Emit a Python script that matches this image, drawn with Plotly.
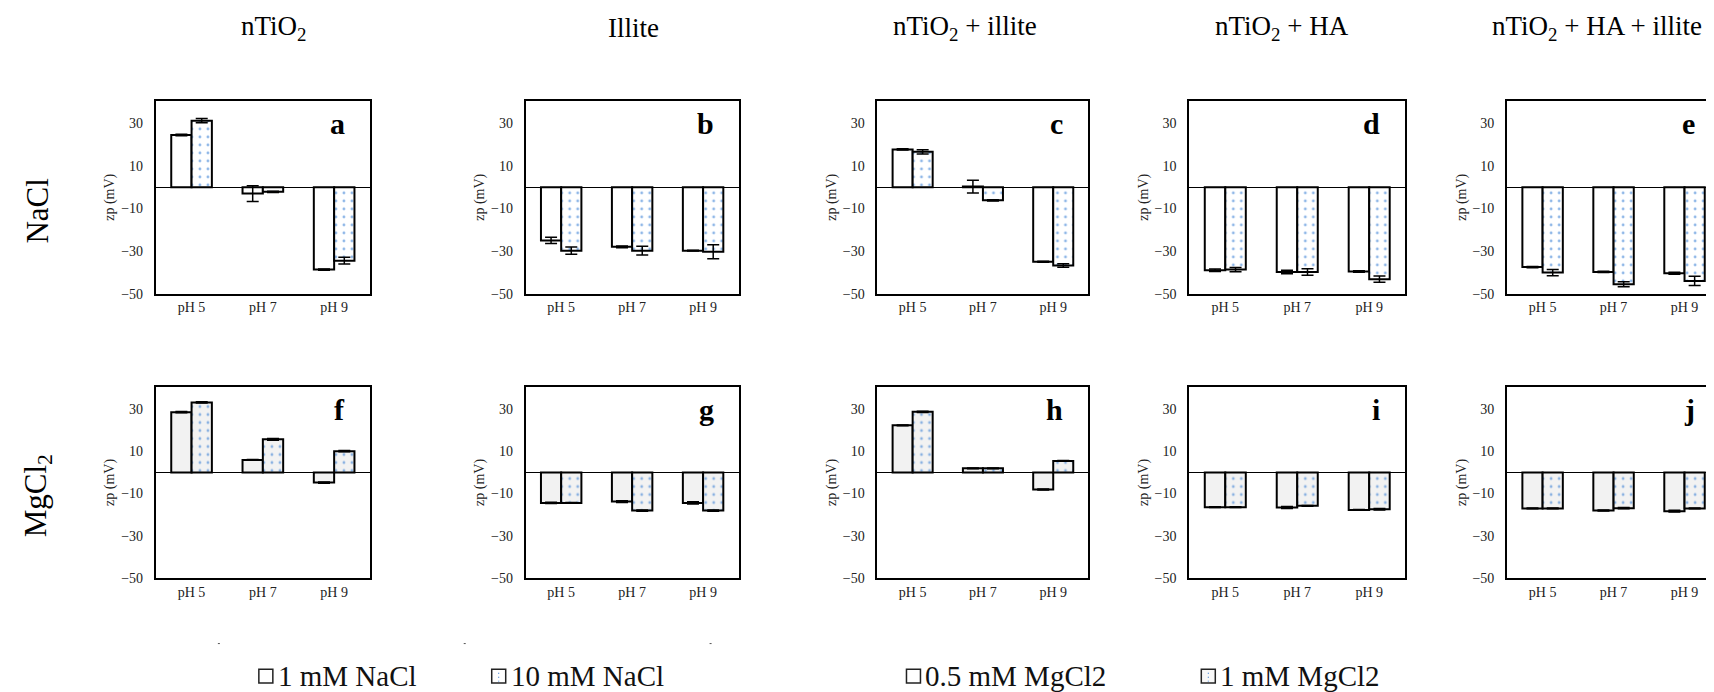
import plotly.graph_objects as go

W, H = 1714, 692

categories = ["pH 5", "pH 7", "pH 9"]
column_titles = ["nTiO<sub>2</sub>", "Illite", "nTiO<sub>2</sub> + illite",
                 "nTiO<sub>2</sub> + HA", "nTiO<sub>2</sub> + HA + illite"]
row_titles = ["NaCl", "MgCl<sub>2</sub>"]
panel_letters_top = ["a", "b", "c", "d", "e"]
panel_letters_bottom = ["f", "g", "h", "i", "j"]
y_ticks = [-50, -30, -10, 10, 30]
y_title = "zp (mV)"
legend_labels = ["1 mM NaCl", "10 mM NaCl", "0.5 mM MgCl2", "1 mM MgCl2"]

# ---- NaCl row (a-e) ----
nTiO2_1mM_NaCl = [24.5, -3.0, -38.7]
nTiO2_1mM_NaCl_err = [0.4, 3.7, 0.3]
nTiO2_10mM_NaCl = [31.2, -2.2, -34.5]
nTiO2_10mM_NaCl_err = [1.0, 0.3, 1.6]

illite_1mM_NaCl = [-25.0, -28.0, -29.8]
illite_1mM_NaCl_err = [1.5, 0.4, 0.2]
illite_10mM_NaCl = [-29.8, -29.8, -30.3]
illite_10mM_NaCl_err = [1.7, 2.0, 3.3]

mix_1mM_NaCl = [17.7, 0.3, -35.0]
mix_1mM_NaCl_err = [0.3, 3.0, 0.2]
mix_10mM_NaCl = [16.6, -6.2, -36.8]
mix_10mM_NaCl_err = [1.0, 0.3, 0.8]

ha_1mM_NaCl = [-39.0, -39.8, -39.6]
ha_1mM_NaCl_err = [0.6, 0.8, 0.3]
ha_10mM_NaCl = [-38.7, -39.8, -43.2]
ha_10mM_NaCl_err = [1.0, 1.5, 1.5]

haill_1mM_NaCl = [-37.5, -39.8, -40.4]
haill_1mM_NaCl_err = [0.3, 0.3, 0.5]
haill_10mM_NaCl = [-40.1, -45.6, -44.0]
haill_10mM_NaCl_err = [1.5, 1.2, 2.2]

# ---- MgCl2 row (f-j) ----
nTiO2_05mM_MgCl2 = [28.4, 5.9, -4.8]
nTiO2_05mM_MgCl2_err = [0.3, 0.2, 0.3]
nTiO2_1mM_MgCl2 = [33.0, 15.6, 10.0]
nTiO2_1mM_MgCl2_err = [0.3, 0.4, 0.3]

illite_05mM_MgCl2 = [-14.4, -13.8, -14.4]
illite_05mM_MgCl2_err = [0.3, 0.4, 0.5]
illite_1mM_MgCl2 = [-14.4, -18.0, -18.0]
illite_1mM_MgCl2_err = [0.2, 0.3, 0.3]

mix_05mM_MgCl2 = [22.2, 1.9, -8.1]
mix_05mM_MgCl2_err = [0.2, 0.2, 0.2]
mix_1mM_MgCl2 = [28.6, 1.9, 5.4]
mix_1mM_MgCl2_err = [0.3, 0.2, 0.2]

ha_05mM_MgCl2 = [-16.4, -16.6, -17.7]
ha_05mM_MgCl2_err = [0.2, 0.5, 0.2]
ha_1mM_MgCl2 = [-16.4, -15.8, -17.4]
ha_1mM_MgCl2_err = [0.2, 0.2, 0.3]

haill_05mM_MgCl2 = [-17.0, -18.0, -18.3]
haill_05mM_MgCl2_err = [0.2, 0.2, 0.4]
haill_1mM_MgCl2 = [-17.0, -16.9, -17.0]
haill_1mM_MgCl2_err = [0.2, 0.3, 0.2]

top_row = [
    (nTiO2_1mM_NaCl, nTiO2_1mM_NaCl_err, nTiO2_10mM_NaCl, nTiO2_10mM_NaCl_err),
    (illite_1mM_NaCl, illite_1mM_NaCl_err, illite_10mM_NaCl, illite_10mM_NaCl_err),
    (mix_1mM_NaCl, mix_1mM_NaCl_err, mix_10mM_NaCl, mix_10mM_NaCl_err),
    (ha_1mM_NaCl, ha_1mM_NaCl_err, ha_10mM_NaCl, ha_10mM_NaCl_err),
    (haill_1mM_NaCl, haill_1mM_NaCl_err, haill_10mM_NaCl, haill_10mM_NaCl_err),
]
bottom_row = [
    (nTiO2_05mM_MgCl2, nTiO2_05mM_MgCl2_err, nTiO2_1mM_MgCl2, nTiO2_1mM_MgCl2_err),
    (illite_05mM_MgCl2, illite_05mM_MgCl2_err, illite_1mM_MgCl2, illite_1mM_MgCl2_err),
    (mix_05mM_MgCl2, mix_05mM_MgCl2_err, mix_1mM_MgCl2, mix_1mM_MgCl2_err),
    (ha_05mM_MgCl2, ha_05mM_MgCl2_err, ha_1mM_MgCl2, ha_1mM_MgCl2_err),
    (haill_05mM_MgCl2, haill_05mM_MgCl2_err, haill_1mM_MgCl2, haill_1mM_MgCl2_err),
]

# ---- layout geometry (pixels) ----
col_px = [(148, 362), (518, 731), (870, 1081), (1182, 1398), (1500, 1713)]
row_px = [(94, 289), (383, 577)]
title_x_px = [266, 626, 958, 1275, 1590]

FONT = "Liberation Serif"
DOT_BLUE = "#1f6fd0"


def px(x):
    return x / W


def py(y):
    return 1 - y / H


fig = go.Figure()
annotations = []
shapes = []

for r, (row_data, letters, fill) in enumerate(
        [(top_row, panel_letters_top, "white"), (bottom_row, panel_letters_bottom, "#f2f2f2")]):
    for c, (v1, e1, v2, e2) in enumerate(row_data):
        idx = r * 5 + c + 1
        xa = "x" if idx == 1 else f"x{idx}"
        ya = "y" if idx == 1 else f"y{idx}"
        err_style = dict(type="data", symmetric=True, color="black", thickness=1.5, width=6)
        fig.add_trace(go.Bar(
            x=categories, y=v1, xaxis=xa, yaxis=ya, showlegend=False,
            marker=dict(color=fill, line=dict(color="black", width=2)),
            error_y=dict(array=e1, **err_style),
        ))
        fig.add_trace(go.Bar(
            x=categories, y=v2, xaxis=xa, yaxis=ya, showlegend=False,
            marker=dict(color=fill, line=dict(color="black", width=2),
                        pattern=dict(shape=".", fgcolor=DOT_BLUE, bgcolor=fill,
                                     size=8, solidity=0.1)),
            error_y=dict(array=e2, **err_style),
        ))
        x0, x1 = col_px[c]
        y0, y1 = row_px[r]
        xkey = "xaxis" if idx == 1 else f"xaxis{idx}"
        ykey = "yaxis" if idx == 1 else f"yaxis{idx}"
        fig.update_layout(**{
            xkey: dict(domain=[px(x0), px(x1)], anchor=ya, showline=True, mirror=True,
                       linecolor="black", linewidth=2, ticks="", showgrid=False,
                       tickfont=dict(family=FONT, size=14, color="#222"),
                       ticklabelstandoff=0, fixedrange=True),
            ykey: dict(domain=[py(y1), py(y0)], anchor=xa, range=[-50, 40.5],
                       tickvals=y_ticks, showline=True, mirror=True,
                       linecolor="black", linewidth=2, ticks="", showgrid=False,
                       zeroline=True, zerolinecolor="black", zerolinewidth=1,
                       tickfont=dict(family=FONT, size=14, color="#222"),
                       ticklabelstandoff=8, fixedrange=True,
                       title=dict(text=y_title, standoff=3,
                                  font=dict(family=FONT, size=14, color="#222"))),
        })
        # panel letter
        annotations.append(dict(
            text=f"<b>{letters[c]}</b>", xref="paper", yref="paper",
            x=px(x1 - 23), y=py(y0 + 4), xanchor="right", yanchor="top",
            showarrow=False, font=dict(family=FONT, size=30, color="black")))

# column titles
for c, t in enumerate(column_titles):
    annotations.append(dict(
        text=t, xref="paper", yref="paper", x=px(title_x_px[c]), y=py(20),
        xanchor="center", yanchor="middle", showarrow=False,
        font=dict(family=FONT, size=27, color="black")))

# row titles
for r, t in enumerate(row_titles):
    annotations.append(dict(
        text=t, textangle=-90, xref="paper", yref="paper", x=px(30),
        y=py([205, 493][r]), xanchor="center", yanchor="middle", showarrow=False,
        font=dict(family=FONT, size=31, color="black")))

# legend (custom, bottom)
legend_box_x = [251, 484, 899, 1194]
legend_fill = ["white", "white", "white", "#f8f8f8"]
legend_dots = [False, True, False, True]
ly = 676
for i, lab in enumerate(legend_labels):
    bx = legend_box_x[i]
    shapes.append(dict(type="rect", xref="paper", yref="paper",
                       x0=px(bx), x1=px(bx + 14), y0=py(ly + 7), y1=py(ly - 7),
                       line=dict(color="#222", width=1.5), fillcolor=legend_fill[i]))
    if legend_dots[i]:
        for dy in (-3, 1, 5):
            shapes.append(dict(type="rect", xref="paper", yref="paper",
                               x0=px(bx + 6.5), x1=px(bx + 7.5), y0=py(ly + dy + 0.5),
                               y1=py(ly + dy - 0.5), line=dict(width=0), fillcolor=DOT_BLUE))
    annotations.append(dict(
        text=lab, xref="paper", yref="paper", x=px(bx + 17), y=py(ly),
        xanchor="left", yanchor="middle", showarrow=False,
        font=dict(family=FONT, size=29, color="#111")))

# tiny marks above legend
for mx in (211, 457, 703):
    shapes.append(dict(type="line", xref="paper", yref="paper",
                       x0=px(mx - 1), x1=px(mx + 1), y0=py(643), y1=py(643),
                       line=dict(color="#555", width=1)))

fig.update_layout(
    width=W, height=H, margin=dict(l=0, r=0, t=0, b=0),
    paper_bgcolor="white", plot_bgcolor="white",
    barmode="group", bargap=0.43, bargroupgap=0,
    annotations=annotations, shapes=shapes, showlegend=False,
    font=dict(family=FONT),
)

fig.write_html("out.html")
